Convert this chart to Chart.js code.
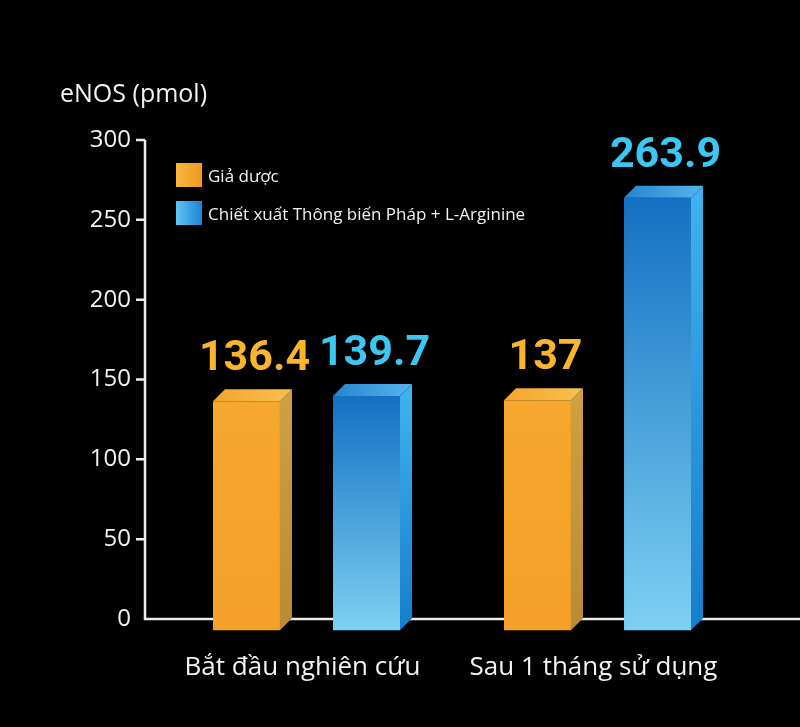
<!DOCTYPE html>
<html lang="vi">
<head>
<meta charset="utf-8">
<title>eNOS (pmol)</title>
<script src="https://cdn.jsdelivr.net/npm/chart.js"></script>
<style>
  html, body { margin: 0; padding: 0; background: #000; }
  canvas { display: block; }
</style>
</head>
<body>
<canvas id="enosChart" width="800" height="727"></canvas>
<script>
// chart data
const categories = ['Bắt đầu nghiên cứu', 'Sau 1 tháng sử dụng'];
const seriesNames = ['Giả dược', 'Chiết xuất Thông biến Pháp + L-Arginine'];
const placeboValues = [136.4, 137];
const extractValues = [139.7, 263.9];
const yTicks = [0, 50, 100, 150, 200, 250, 300];
const yTitle = 'eNOS (pmol)';

// look of the boxes
const DEPTH_X = 12;
const DEPTH_Y = 12;
const BAR_BASE = -7;   // front face sinks a little under the axis line
const AXIS_INSET = 16; // axis line sits left of the first category band
const TEXT = '#f2f2f2';

const STYLES = [
  {
    front: ['#F6A72D', '#F4A02A'],
    side: ['#CFA040', '#B98A33'],
    top: ['#F3A52E', '#FAC04E'],
    legend: ['#F8B640', '#F09A1E'],
    label: '#F9B52B'
  },
  {
    front: ['#1470C2', '#7ED0F2'],
    side: ['#3DB2EE', '#137FCD'],
    top: ['#2685D2', '#56B4EA'],
    legend: ['#62C4F2', '#1A84D5'],
    label: '#3CC6F2'
  }
];

function frontFill(style) {
  return ctx => {
    const chart = ctx.chart;
    if (!chart.chartArea || ctx.type !== 'data') return style.front[0];
    const y = chart.scales.y;
    const g = chart.ctx.createLinearGradient(0, y.getPixelForValue(ctx.parsed.y), 0, y.getPixelForValue(BAR_BASE));
    g.addColorStop(0, style.front[0]);
    g.addColorStop(1, style.front[1]);
    return g;
  };
}

const boxPlugin = {
  id: 'box3d',
  beforeDatasetsDraw(chart) {
    const { ctx, chartArea, scales } = chart;
    const y = scales.y;
    const axisX = chartArea.left - AXIS_INSET;
    const zero = y.getPixelForValue(0);
    ctx.save();
    ctx.strokeStyle = '#ececec';
    ctx.lineWidth = 2.5;
    ctx.beginPath();
    ctx.moveTo(axisX, y.getPixelForValue(yTicks[yTicks.length - 1]));
    ctx.lineTo(axisX, zero);
    ctx.lineTo(chart.width, zero);
    yTicks.filter(v => v > 0).forEach(v => {
      const py = y.getPixelForValue(v);
      ctx.moveTo(axisX - 9, py);
      ctx.lineTo(axisX, py);
    });
    ctx.stroke();

    // y title
    ctx.fillStyle = TEXT;
    ctx.font = '25px "Open Sans"';
    ctx.textAlign = 'left';
    ctx.textBaseline = 'alphabetic';
    ctx.fillText(yTitle, chartArea.left - 101, chartArea.top - 38);

    // legend
    ctx.font = '17px "Open Sans"';
    chart.data.datasets.forEach((ds, i) => {
      const st = STYLES[i];
      const bx = chartArea.left + 15;
      const by = chartArea.top + 23 + i * 38;
      const g = ctx.createLinearGradient(bx, 0, bx + 26, 0);
      g.addColorStop(0, st.legend[0]);
      g.addColorStop(1, st.legend[1]);
      ctx.fillStyle = g;
      ctx.fillRect(bx, by, 26, 24);
      ctx.fillStyle = TEXT;
      ctx.fillText(ds.label, bx + 32, by + 19);
    });
    ctx.restore();
  },
  afterDatasetsDraw(chart) {
    const { ctx } = chart;
    ctx.save();
    chart.data.datasets.forEach((ds, i) => {
      const st = STYLES[i];
      chart.getDatasetMeta(i).data.forEach((bar, j) => {
        const { x, y, width, base } = bar.getProps(['x', 'y', 'width', 'base'], true);
        const left = x - width / 2;
        const right = x + width / 2;

        // side face
        let g = ctx.createLinearGradient(0, y, 0, base);
        g.addColorStop(0, st.side[0]);
        g.addColorStop(1, st.side[1]);
        ctx.fillStyle = g;
        ctx.beginPath();
        ctx.moveTo(right, y);
        ctx.lineTo(right + DEPTH_X, y - DEPTH_Y);
        ctx.lineTo(right + DEPTH_X, base - DEPTH_Y);
        ctx.lineTo(right, base);
        ctx.closePath();
        ctx.fill();

        // top face
        g = ctx.createLinearGradient(left, 0, right + DEPTH_X, 0);
        g.addColorStop(0, st.top[0]);
        g.addColorStop(1, st.top[1]);
        ctx.fillStyle = g;
        ctx.beginPath();
        ctx.moveTo(left, y);
        ctx.lineTo(left + DEPTH_X, y - DEPTH_Y);
        ctx.lineTo(right + DEPTH_X, y - DEPTH_Y);
        ctx.lineTo(right, y);
        ctx.closePath();
        ctx.fill();

        // value
        ctx.fillStyle = st.label;
        ctx.font = 'bold 43px Roboto';
        ctx.textAlign = 'center';
        ctx.textBaseline = 'alphabetic';
        ctx.fillText(String(ds.data[j]), x + 8, y - 31);
      });
    });
    ctx.restore();
  }
};

new Chart(document.getElementById('enosChart'), {
  type: 'bar',
  data: {
    labels: categories,
    datasets: [
      { label: seriesNames[0], data: placeboValues, backgroundColor: frontFill(STYLES[0]) },
      { label: seriesNames[1], data: extractValues, backgroundColor: frontFill(STYLES[1]) }
    ]
  },
  options: {
    responsive: false,
    animation: false,
    datasets: { bar: { base: BAR_BASE, clip: false, borderWidth: 0, categoryPercentage: 0.825, barPercentage: 0.558 } },
    layout: { padding: { top: 140, right: 57, left: 0, bottom: 0 } },
    plugins: { legend: { display: false }, tooltip: { enabled: false } },
    scales: {
      x: {
        grid: { display: false },
        border: { display: false },
        ticks: { color: TEXT, font: { family: 'Open Sans', size: 26 }, padding: 25, labelOffset: -4 },
        afterFit: s => { s.height = 108; }
      },
      y: {
        min: 0,
        max: 300,
        grid: { display: false },
        border: { display: false },
        ticks: { color: TEXT, font: { family: 'Open Sans', size: 24 }, padding: 22 },
        afterBuildTicks: s => { s.ticks = yTicks.map(v => ({ value: v })); },
        afterFit: s => { s.width = 161; }
      }
    }
  },
  plugins: [boxPlugin]
});
</script>
</body>
</html>
